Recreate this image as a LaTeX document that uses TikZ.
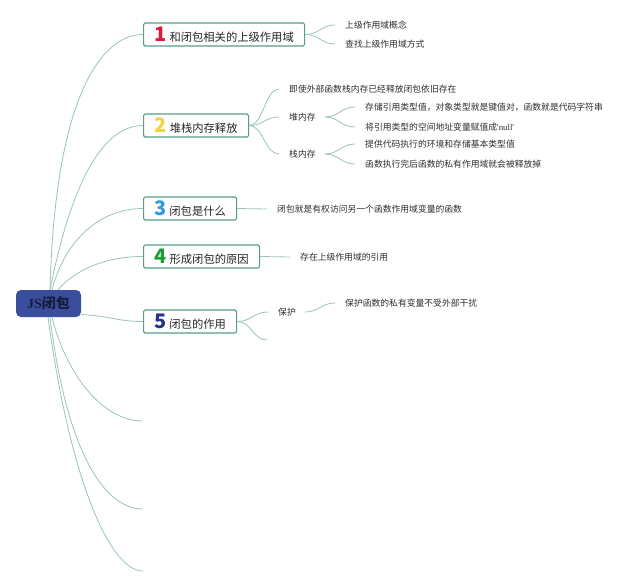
\documentclass[tikz,border=0pt]{standalone}
\usepackage{fontspec}
\setmainfont{Noto Sans CJK SC}
\newfontfamily\jsfont{Liberation Serif}
\definecolor{linec}{HTML}{9CC4BA}
\definecolor{boxc}{HTML}{5A9C8B}
\definecolor{cblue}{HTML}{3B4E9E}
\definecolor{cdark}{HTML}{161B3A}
\definecolor{nred}{HTML}{D81E3C}
\definecolor{nyel}{HTML}{F2D33C}
\definecolor{nblue}{HTML}{2F9BE0}
\definecolor{ngreen}{HTML}{1F9E35}
\definecolor{nnavy}{HTML}{27308A}
\definecolor{txt}{HTML}{2E2E2E}
\newcommand\tnum[2]{{\color{#1}\fontsize{20}{20}\selectfont\bfseries #2}\hspace{3pt}}
\begin{document}
\begin{tikzpicture}[x=1pt,y=-1pt,
  conn/.style={draw=linec, line width=0.8pt},
  center/.style={fill=cblue, rounded corners=5pt, minimum width=65pt, minimum height=27pt, inner sep=0pt, text=cdark, font=\fontsize{14}{16}\selectfont\bfseries},
  topic/.style={draw=boxc, line width=1.2pt, fill=white, rounded corners=1.5pt, anchor=west, minimum height=23pt, inner sep=0pt, text=black!85, font=\fontsize{11.3}{13}\selectfont},
  leaf/.style={anchor=west, inner sep=0pt, text=txt, font=\fontsize{8.8}{11}\selectfont}]
\useasboundingbox[fill=white] (0,0) rectangle (640,587);
% central and topics
\node[center] (c) at (48.5,303.5) {{\jsfont\bfseries JS}闭包};
\node[topic, minimum width=161pt] (t1) at (143,34.5) {\tnum{nred}{1}和闭包相关的上级作用域};
\node[topic, minimum width=105pt] (t2) at (143,125.5) {\tnum{nyel}{2}堆栈内存释放};
\node[topic, minimum width=93pt] (t3) at (143,208.5) {\tnum{nblue}{3}闭包是什么};
\node[topic, minimum width=116pt] (t4) at (143,256.5) {\tnum{ngreen}{4}形成闭包的原因};
\node[topic, minimum width=93pt] (t5) at (143,321.5) {\tnum{nnavy}{5}闭包的作用};
\coordinate (e1) at (143,421);
\coordinate (e2) at (143,509);
\coordinate (e3) at (143,571);
% leaves
\node[leaf] (l11) at (345,25) {上级作用域概念};
\node[leaf] (l12) at (345,44) {查找上级作用域方式};
\node[leaf] (l21) at (289,89) {即使外部函数栈内存已经释放闭包依旧存在};
\node[leaf] (l22) at (289,117) {堆内存};
\node[leaf] (l23) at (289,154) {栈内存};
\node[leaf] (l221) at (365,107) {存储引用类型值，对象类型就是键值对，函数就是代码字符串};
\node[leaf] (l222) at (365,127) {将引用类型的空间地址变量赋值成{\jsfont 'null'}};
\node[leaf] (l231) at (365,144) {提供代码执行的环境和存储基本类型值};
\node[leaf] (l232) at (365,164) {函数执行完后函数的私有作用域就会被释放掉};
\node[leaf] (l31) at (277,209) {闭包就是有权访问另一个函数作用域变量的函数};
\node[leaf] (l41) at (300,257) {存在上级作用域的引用};
\node[leaf] (l51) at (278,312) {保护};
\coordinate (e51) at (267,340);
\node[leaf] (l511) at (345,303) {保护函数的私有变量不受外部干扰};
% main branches
\draw[conn] ([xshift=1.5pt]c.north) .. controls (55,100) and (100,34.5) .. (t1.west);
\draw[conn] ([xshift=1.5pt]c.north) .. controls (70,190) and (100,125.5) .. (t2.west);
\draw[conn] ([xshift=3.5pt]c.north) .. controls (65,240) and (100,208.5) .. (t3.west);
\draw[conn] ([xshift=9.5pt]c.north) .. controls (75,270) and (105,256.5) .. (t4.west);
\draw[conn] ([yshift=-11pt]c.east) .. controls (110,316) and (118,321.5) .. (t5.west);
\draw[conn] ([xshift=3.5pt]c.south) .. controls (65,370) and (100,421) .. (e1);
\draw[conn] ([xshift=1.5pt]c.south) .. controls (65,440) and (100,509) .. (e2);
\draw[conn] ([xshift=-0.5pt]c.south) .. controls (70,480) and (110,571) .. (e3);
% sub branches
\foreach \a/\b in {t1/l11, t1/l12, t2/l21, t2/l22, t2/l23, t5/l51}
  \draw[conn] (\a.east) .. controls +(14,0) and +(-14,0) .. ([xshift=-10pt]\b.west);
\draw[conn] (t5.east) .. controls +(14,0) and +(-14,0) .. (e51);
\draw[conn] (t3.east) -- ([xshift=-10pt]l31.west);
\draw[conn] (t4.east) -- ([xshift=-10pt]l41.west);
\foreach \a/\b in {l22/l221, l22/l222, l23/l231, l23/l232, l51/l511}
  \draw[conn] ([xshift=9pt]\a.east) .. controls +(14,0) and +(-14,0) .. ([xshift=-10pt]\b.west);
\end{tikzpicture}
\end{document}
